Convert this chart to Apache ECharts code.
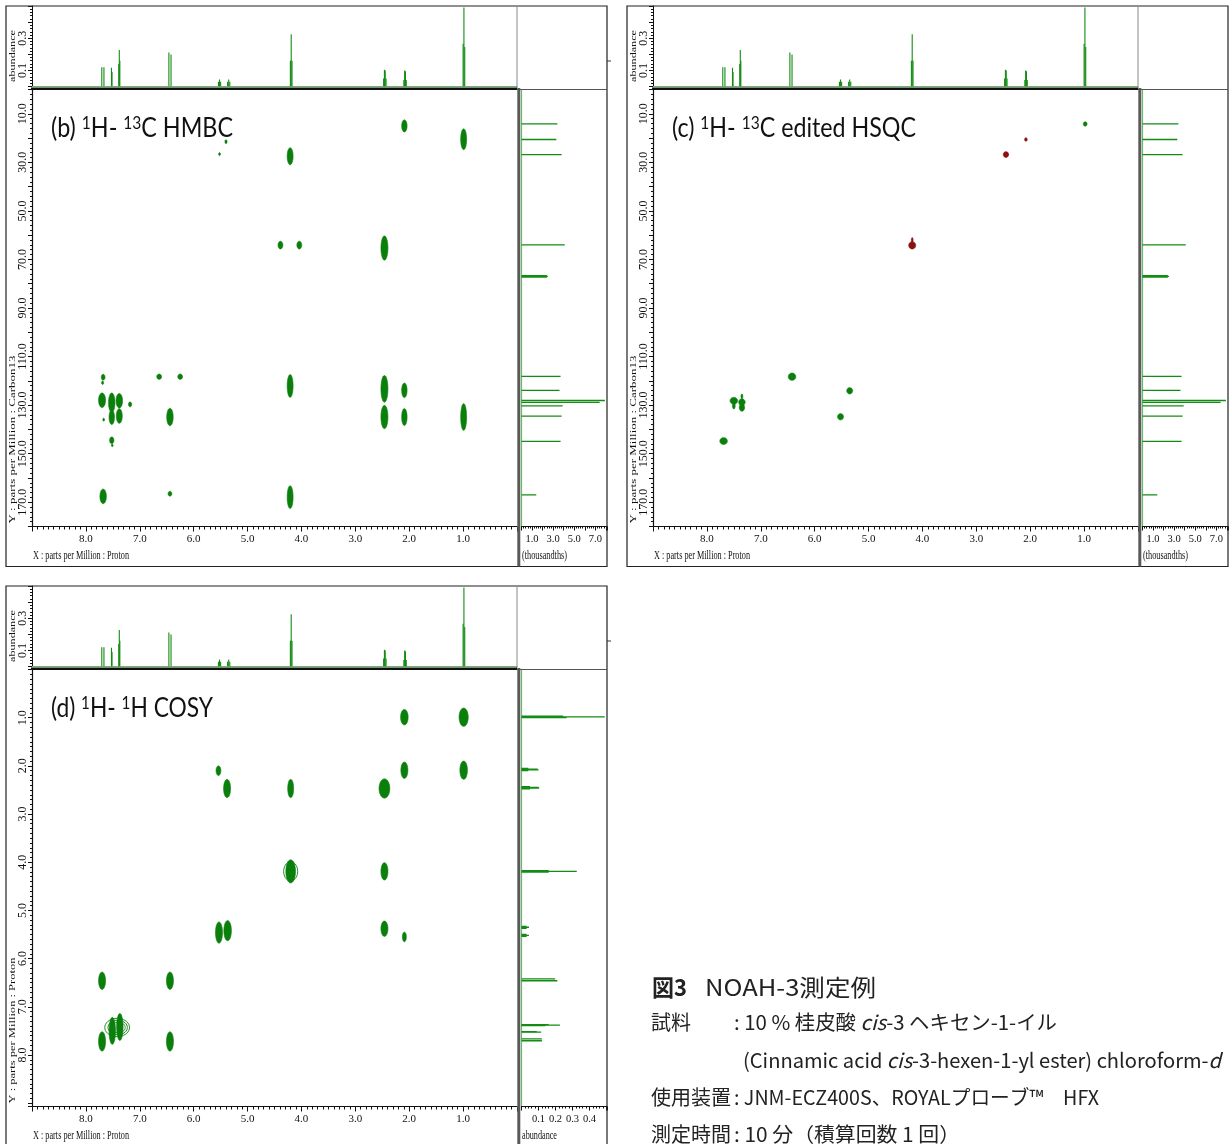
<!DOCTYPE html>
<html>
<head>
<meta charset="utf-8">
<script src="https://cdn.jsdelivr.net/npm/echarts@6.0.0/dist/echarts.min.js"></script>
<style>
html,body{margin:0;padding:0;background:#ffffff;}
#chart{width:1229px;height:1144px;}
</style>
</head>
<body>
<div id="chart"></div>
<script>
// ================= DATA =================
// 1H 1D spectrum (used as F2 projection, and as F1 projection of COSY): line positions (ppm) / abundance
const hLinePpm   = [7.705, 7.665, 7.525, 7.515, 7.39, 7.38, 7.37, 6.46, 6.42, 5.54, 5.52, 5.50, 5.37, 5.35, 5.33, 4.205, 4.19, 4.175, 2.475, 2.46, 2.445, 2.43, 2.10, 2.085, 2.07, 2.055, 1.00, 0.985, 0.97];
const hLineAbund = [0.12, 0.12, 0.116, 0.09, 0.14, 0.226, 0.16, 0.211, 0.198, 0.03, 0.044, 0.03, 0.03, 0.044, 0.03, 0.16, 0.325, 0.16, 0.05, 0.104, 0.10, 0.05, 0.04, 0.10, 0.095, 0.04, 0.265, 0.49, 0.245];

// 13C 1D spectrum (F1 projection of HMBC / HSQC): ppm / intensity (thousandths)
const cLinePpm = [14.2, 20.6, 26.8, 64.0, 76.7, 77.0, 77.3, 118.2, 123.9, 128.1, 128.9, 130.3, 134.5, 144.9, 167.0];
const cLineInt = [3.4, 3.3, 3.8, 4.1, 2.4, 2.5, 2.4, 3.7, 3.6, 7.9, 7.4, 3.9, 3.8, 3.7, 1.4];

// (b) HMBC cross peaks: 1H ppm, 13C ppm, half-extent in 1H (ppm), half-extent in 13C (ppm)
const hmbcH     = [2.09, 0.99, 5.40, 5.52, 4.21, 4.39, 4.04, 2.46, 7.68, 7.69, 6.64, 6.25, 4.21, 2.46, 2.46, 2.09, 2.09, 0.99, 7.70, 7.52, 7.52, 7.38, 7.38, 7.18, 7.67, 7.52, 7.51, 6.44, 7.68, 6.44, 4.21];
const hmbcC     = [15.0, 20.5, 21.5, 26.6, 27.5, 64.1, 64.1, 65.3, 118.5, 120.8, 118.3, 118.3, 122.1, 123.3, 134.9, 123.9, 134.9, 134.9, 128.0, 129.0, 135.0, 128.2, 134.5, 129.7, 136.0, 144.5, 146.6, 134.9, 167.6, 166.5, 167.9];
const hmbcHalfH = [0.05, 0.055, 0.02, 0.018, 0.055, 0.045, 0.045, 0.065, 0.035, 0.02, 0.045, 0.045, 0.055, 0.065, 0.065, 0.05, 0.05, 0.055, 0.065, 0.06, 0.05, 0.06, 0.055, 0.03, 0.015, 0.04, 0.012, 0.06, 0.06, 0.035, 0.055];
const hmbcHalfC = [2.5, 4.3, 0.8, 0.6, 3.5, 1.6, 1.6, 5.0, 1.2, 0.7, 1.1, 1.1, 4.7, 5.5, 4.8, 3.0, 3.5, 5.5, 3.0, 4.0, 3.0, 3.0, 3.0, 1.0, 0.6, 1.4, 0.5, 3.6, 3.0, 1.0, 4.7];

// (c) edited HSQC cross peaks: 1H ppm, 13C ppm, half-extents, phase (+1 CH/CH3, -1 CH2)
const hsqcH     = [0.98, 2.08, 2.45, 4.19, 4.19, 6.42, 5.35, 5.52, 7.50, 7.50, 7.35, 7.35, 7.35, 7.69];
const hsqcC     = [14.2, 20.6, 26.8, 64.2, 62.0, 118.3, 124.1, 134.8, 128.2, 130.3, 128.8, 131.0, 126.4, 144.8];
const hsqcHalfH = [0.035, 0.025, 0.05, 0.065, 0.008, 0.07, 0.055, 0.055, 0.07, 0.025, 0.06, 0.05, 0.01, 0.07];
const hsqcHalfC = [0.9, 0.7, 1.2, 1.5, 1.0, 1.5, 1.3, 1.3, 1.4, 1.3, 1.4, 1.5, 1.0, 1.4];
const hsqcPhase = [1, -1, -1, -1, -1, 1, 1, 1, 1, 1, 1, 1, 1, 1];

// (d) COSY cross peaks: F2 ppm, F1 ppm, half-extents
const cosyF2     = [2.09, 0.99, 5.54, 5.38, 4.20, 2.46, 2.09, 0.99, 4.20, 2.46, 5.53, 5.37, 2.46, 2.09, 7.70, 6.44, 7.70, 6.44, 7.51, 7.37];
const cosyF1     = [0.99, 0.99, 2.10, 2.47, 2.47, 2.47, 2.09, 2.09, 4.19, 4.19, 5.46, 5.42, 5.38, 5.55, 6.46, 6.46, 7.72, 7.72, 7.50, 7.42];
const cosyHalfF2 = [0.07, 0.085, 0.045, 0.065, 0.055, 0.1, 0.065, 0.07, 0.09, 0.065, 0.065, 0.07, 0.065, 0.037, 0.065, 0.065, 0.065, 0.065, 0.06, 0.06];
const cosyHalfF1 = [0.16, 0.19, 0.10, 0.19, 0.19, 0.20, 0.17, 0.19, 0.24, 0.18, 0.22, 0.21, 0.16, 0.10, 0.18, 0.18, 0.20, 0.20, 0.28, 0.28];
// COSY open contour rings (aromatic cluster and diagonal 4.19)
const cosyRingF2     = [7.42, 7.41, 7.40, 4.20];
const cosyRingF1     = [7.43, 7.43, 7.43, 4.19];
const cosyRingHalfF2 = [0.23, 0.18, 0.13, 0.13];
const cosyRingHalfF1 = [0.19, 0.15, 0.11, 0.2];

// tick labels
const protonTickLabels      = [8, 7, 6, 5, 4, 3, 2, 1];
const carbonTickLabels      = [10, 30, 50, 70, 90, 110, 130, 150, 170];
const cosyTickLabels        = [1, 2, 3, 4, 5, 6, 7, 8];
const abundTickLabels       = [0.1, 0.3];
const thousandthsTickLabels = [1, 3, 5, 7];
const cosySideTickLabels    = [0.1, 0.2, 0.3, 0.4];

// ================= STYLE =================
const GREEN = '#0b7f0b';
const LINE_GREEN = '#138c13';
const BASE_GREEN = '#6ab86a';
const RED = '#8b1111';
const AXIS = '#111111';
const SERIF = "'Liberation Serif', 'Times New Roman', serif";
const SANS = "Lato, 'Open Sans', sans-serif";
const JP = "'Noto Sans CJK JP', sans-serif";

const mctx = document.createElement('canvas').getContext('2d');
function textWidth(segs) {
  let w = 0;
  segs.forEach(function (s) { mctx.font = s[1]; w += mctx.measureText(s[0]).width; });
  return w;
}
function near(list, v) { return list.some(function (t) { return Math.abs(t - v) < 1e-6; }); }
function labelFmt(list) { return function (v) { return near(list, v) ? v.toFixed(1) : ''; }; }

function ellipsePts(cx, cy, rx, ry) {
  const pts = [];
  for (let k = 0; k < 36; k++) {
    const a = k / 36 * Math.PI * 2;
    pts.push([cx + rx * Math.cos(a), cy + ry * Math.sin(a)]);
  }
  return pts;
}
function blobRender(colorFn, filled) {
  return function (params, api) {
    const c = api.coord([api.value(0), api.value(1)]);
    const s = api.size([api.value(2) * 2, api.value(3) * 2]);
    const rx = Math.max(0.9, s[0] / 2), ry = Math.max(0.9, s[1] / 2);
    const col = colorFn(api);
    return {
      type: 'polygon', shape: { points: ellipsePts(c[0], c[1], rx, ry) },
      style: filled ? { fill: col, stroke: col, lineWidth: 0.6 } : { fill: 'none', stroke: col, lineWidth: 0.9 }
    };
  };
}
function vSpike(params, api) {
  const p0 = api.coord([api.value(0), 0]);
  const p1 = api.coord([api.value(0), api.value(1)]);
  return { type: 'line', shape: { x1: p0[0], y1: p0[1], x2: p1[0], y2: p1[1] }, style: { stroke: LINE_GREEN, lineWidth: 1.1 } };
}
function hSpike(params, api) {
  const p0 = api.coord([0, api.value(1)]);
  const p1 = api.coord([api.value(0), api.value(1)]);
  return { type: 'line', shape: { x1: p0[0], y1: p0[1], x2: p1[0], y2: p1[1] }, style: { stroke: LINE_GREEN, lineWidth: 1.3 } };
}

const grid = [], xAxis = [], yAxis = [], series = [], graphic = [];

function valAxis(o) {
  const base = {
    type: 'value', splitLine: { show: false },
    axisLine: { show: true, onZero: false, lineStyle: { color: AXIS, width: 1 } },
    axisTick: { show: false }, minorTick: { show: false }, axisLabel: { show: false }
  };
  return Object.assign(base, o);
}

function addPanel(ox, oy, mode) {
  const g = grid.length;
  grid.push({ left: ox + 32, top: oy + 6, width: 485, height: 80.5, outerBoundsMode: 'none' });
  grid.push({ left: ox + 32, top: oy + 89.5, width: 485, height: 437, outerBoundsMode: 'none' });
  grid.push({ left: ox + 521.5, top: oy + 89.5, width: 85.5, height: 437, outerBoundsMode: 'none' });
  const cosy = mode === 'cosy';
  const yMax = cosy ? 9.07 : 180;
  const xi = xAxis.length, yi = yAxis.length;

  // top 1H projection
  xAxis.push(valAxis({ gridIndex: g, min: 0, max: 9, inverse: true,
    axisLine: { show: true, onZero: false, lineStyle: { color: BASE_GREEN, width: 1 } } }));
  yAxis.push(valAxis({ gridIndex: g, min: 0, max: 0.5, interval: 0.1, position: 'left',
    axisTick: { show: true, length: 4, lineStyle: { color: AXIS } },
    minorTick: { show: true, splitNumber: 5, length: 2, lineStyle: { color: AXIS } },
    axisLabel: { show: true, rotate: 90, margin: 3, fontSize: 12, fontFamily: SERIF, color: AXIS, formatter: labelFmt(abundTickLabels) } }));

  // main 2D
  xAxis.push(valAxis({ gridIndex: g + 1, min: 0, max: 9, inverse: true, interval: 1, position: 'bottom',
    axisLine: { show: true, onZero: false, lineStyle: { color: AXIS, width: 1.2 } },
    axisTick: { show: true, length: 5, lineStyle: { color: AXIS } },
    minorTick: { show: true, splitNumber: 10, length: 3, lineStyle: { color: AXIS } },
    axisLabel: { show: true, margin: 7, fontSize: 11, fontFamily: SERIF, color: AXIS, formatter: labelFmt(protonTickLabels) } }));
  yAxis.push(valAxis({ gridIndex: g + 1, min: 0, max: yMax, inverse: true, interval: cosy ? 1 : 10, position: 'left',
    axisLine: { show: true, onZero: false, lineStyle: { color: AXIS, width: 1.2 } },
    axisTick: { show: true, length: 4, lineStyle: { color: AXIS } },
    minorTick: { show: true, splitNumber: cosy ? 10 : 5, length: 2, lineStyle: { color: AXIS } },
    axisLabel: { show: true, rotate: 90, margin: 3, fontSize: 12, fontFamily: SERIF, color: AXIS,
      formatter: labelFmt(cosy ? cosyTickLabels : carbonTickLabels) } }));

  // side projection
  xAxis.push(valAxis({ gridIndex: g + 2, min: 0, max: cosy ? 0.503 : 8.1, interval: cosy ? 0.1 : 1, position: 'bottom',
    axisLine: { show: true, onZero: false, lineStyle: { color: AXIS, width: 1.2 } },
    axisTick: { show: true, length: 4, lineStyle: { color: AXIS } },
    minorTick: { show: true, splitNumber: 5, length: 2, lineStyle: { color: AXIS } },
    axisLabel: { show: true, margin: 7, fontSize: 10.5, fontFamily: SERIF, color: AXIS,
      formatter: labelFmt(cosy ? cosySideTickLabels : thousandthsTickLabels) } }));
  yAxis.push(valAxis({ gridIndex: g + 2, min: 0, max: yMax, inverse: true, position: 'left',
    axisLine: { show: true, onZero: false, lineStyle: { color: BASE_GREEN, width: 1.2 } } }));

  // series
  series.push({ type: 'custom', xAxisIndex: xi, yAxisIndex: yi, clip: true, silent: true, animation: false,
    data: hLinePpm.map(function (p, i) { return [p, hLineAbund[i]]; }), renderItem: vSpike });

  if (mode === 'hmbc') {
    series.push({ type: 'custom', xAxisIndex: xi + 1, yAxisIndex: yi + 1, clip: true, silent: true, animation: false,
      data: hmbcH.map(function (h, i) { return [h, hmbcC[i], hmbcHalfH[i], hmbcHalfC[i]]; }),
      renderItem: blobRender(function () { return GREEN; }, true) });
  } else if (mode === 'hsqc') {
    series.push({ type: 'custom', xAxisIndex: xi + 1, yAxisIndex: yi + 1, clip: true, silent: true, animation: false,
      data: hsqcH.map(function (h, i) { return [h, hsqcC[i], hsqcHalfH[i], hsqcHalfC[i], hsqcPhase[i]]; }),
      renderItem: blobRender(function (api) { return api.value(4) < 0 ? RED : GREEN; }, true) });
  } else {
    series.push({ type: 'custom', xAxisIndex: xi + 1, yAxisIndex: yi + 1, clip: true, silent: true, animation: false,
      data: cosyF2.map(function (h, i) { return [h, cosyF1[i], cosyHalfF2[i], cosyHalfF1[i]]; }),
      renderItem: blobRender(function () { return GREEN; }, true) });
    series.push({ type: 'custom', xAxisIndex: xi + 1, yAxisIndex: yi + 1, clip: true, silent: true, animation: false,
      data: cosyRingF2.map(function (h, i) { return [h, cosyRingF1[i], cosyRingHalfF2[i], cosyRingHalfF1[i]]; }),
      renderItem: blobRender(function () { return GREEN; }, false) });
  }

  if (cosy) {
    series.push({ type: 'custom', xAxisIndex: xi + 2, yAxisIndex: yi + 2, clip: true, silent: true, animation: false,
      data: hLinePpm.map(function (p, i) { return [hLineAbund[i], p]; }), renderItem: hSpike });
  } else {
    series.push({ type: 'custom', xAxisIndex: xi + 2, yAxisIndex: yi + 2, clip: true, silent: true, animation: false,
      data: cLinePpm.map(function (p, i) { return [cLineInt[i], p]; }), renderItem: hSpike });
  }

  // frames
  function L(x1, y1, x2, y2, stroke, w) {
    graphic.push({ type: 'line', silent: true, z: 100, shape: { x1: ox + x1, y1: oy + y1, x2: ox + x2, y2: oy + y2 }, style: { stroke: stroke, lineWidth: w } });
  }
  graphic.push({ type: 'rect', silent: true, z: 100, shape: { x: ox + 6, y: oy + 6, width: 601, height: 560.5 }, style: { fill: 'none', stroke: '#222', lineWidth: 1.2 } });
  L(517, 6, 517, 88, '#888', 1);
  L(31, 88.8, 517, 88.8, '#111', 2.6);
  L(517, 89.5, 607, 89.5, '#555', 1);
  L(518.8, 88, 518.8, 566.5, '#5a5a5a', 3);
  if (mode !== 'hsqc') L(607, 61, 611, 61, '#333', 1);

  // axis names (serif, condensed like the original)
  const f125 = '12.5px ' + SERIF;
  const xName = 'X : parts per Million : Proton';
  graphic.push({ type: 'text', silent: true, z: 100, x: ox + 33, y: oy + 556, scaleX: 96 / textWidth([[xName, f125]]),
    style: { text: xName, fontSize: 12.5, fontFamily: SERIF, fill: AXIS, align: 'left', verticalAlign: 'middle' } });
  const yName = cosy ? 'Y : parts per Million : Proton' : 'Y : parts per Million : Carbon13';
  const yLen = cosy ? 146 : 168;
  graphic.push({ type: 'text', silent: true, z: 100, x: ox + 12.5, y: oy + 523.5, rotation: Math.PI / 2,
    scaleX: yLen / textWidth([[yName, f125]]), scaleY: 0.72,
    style: { text: yName, fontSize: 12.5, fontFamily: SERIF, fill: AXIS, align: 'left', verticalAlign: 'middle' } });
  graphic.push({ type: 'text', silent: true, z: 100, x: ox + 12.5, y: oy + 82, rotation: Math.PI / 2,
    scaleX: 52 / textWidth([['abundance', f125]]), scaleY: 0.72,
    style: { text: 'abundance', fontSize: 12.5, fontFamily: SERIF, fill: AXIS, align: 'left', verticalAlign: 'middle' } });
  const sideName = cosy ? 'abundance' : '(thousandths)';
  graphic.push({ type: 'text', silent: true, z: 100, x: ox + 522, y: oy + 556, scaleX: (cosy ? 35 : 45) / textWidth([[sideName, f125]]),
    style: { text: sideName, fontSize: 12.5, fontFamily: SERIF, fill: AXIS, align: 'left', verticalAlign: 'middle' } });
}

function addTitle(ox, oy, letter, sup1, mid, sup2, tail, target) {
  const fBig = '27px ' + SANS, fSup = '18px ' + SANS;
  const w = textWidth([['(' + letter + ') ', fBig], [sup1, fSup], [mid, fBig], [sup2, fSup], [tail, fBig]]);
  graphic.push({ type: 'text', silent: true, z: 100, x: ox + 51, y: oy + 128, scaleX: target / w,
    style: {
      text: '(' + letter + ') {s|' + sup1 + '}' + mid + '{s|' + sup2 + '}' + tail,
      fontSize: 27, fontFamily: SANS, fill: '#111', align: 'left', verticalAlign: 'middle',
      rich: { s: { fontSize: 18, fontFamily: SANS, fill: '#111', verticalAlign: 'top' } }
    } });
}

addPanel(0, 0, 'hmbc');
addPanel(621, 0, 'hsqc');
addPanel(0, 580, 'cosy');
addTitle(0, 0, 'b', '1', 'H- ', '13', 'C HMBC', 182);
addTitle(621, 0, 'c', '1', 'H- ', '13', 'C edited HSQC', 244);
addTitle(0, 580, 'd', '1', 'H- ', '1', 'H COSY', 162);

// caption
function capText(x, y, text, size, rich, segs, target, weight) {
  const el = { type: 'text', silent: true, z: 100, x: x, y: y,
    style: { text: text, fontSize: size, fontFamily: JP, fontWeight: weight || 'normal', fill: '#222', align: 'left', verticalAlign: 'middle', rich: rich || {} } };
  if (target) el.scaleX = target / textWidth(segs);
  graphic.push(el);
}
const f20 = '20px ' + JP, f20i = 'italic 20px ' + JP;
const italic20 = { i: { fontSize: 20, fontFamily: JP, fontStyle: 'italic', fill: '#222' } };
capText(652, 987, '図3', 23, null, [['図3', 'bold 23px ' + JP]], 35, 'bold');
capText(705, 987, 'NOAH-3測定例', 23, null, [['NOAH-3測定例', '23px ' + JP]], 171);
capText(651, 1022, '試料', 20);
capText(734, 1022, ': 10 % 桂皮酸 {i|cis}-3 ヘキセン-1-イル', 20, italic20,
  [[': 10 % 桂皮酸 ', f20], ['cis', f20i], ['-3 ヘキセン-1-イル', f20]], 323);
capText(743, 1060, '(Cinnamic acid {i|cis}-3-hexen-1-yl ester) chloroform-{i|d}', 20, italic20,
  [['(Cinnamic acid ', f20], ['cis', f20i], ['-3-hexen-1-yl ester) chloroform-', f20], ['d', f20i]], 478);
capText(651, 1097, '使用装置', 20);
capText(734, 1097, ': JNM-ECZ400S、ROYALプローブ™　HFX', 20, null,
  [[': JNM-ECZ400S、ROYALプローブ™　HFX', f20]], 365);
capText(651, 1134, '測定時間', 20);
capText(734, 1134, ': 10 分（積算回数 1 回）', 20, null,
  [[': 10 分（積算回数 1 回）', f20]], 226);

const chart = echarts.init(document.getElementById('chart'), null, { renderer: 'canvas', width: 1229, height: 1144 });
chart.setOption({
  backgroundColor: '#ffffff',
  animation: false,
  textStyle: { fontFamily: SERIF },
  grid: grid,
  xAxis: xAxis,
  yAxis: yAxis,
  series: series,
  graphic: graphic
});
</script>
</body>
</html>
